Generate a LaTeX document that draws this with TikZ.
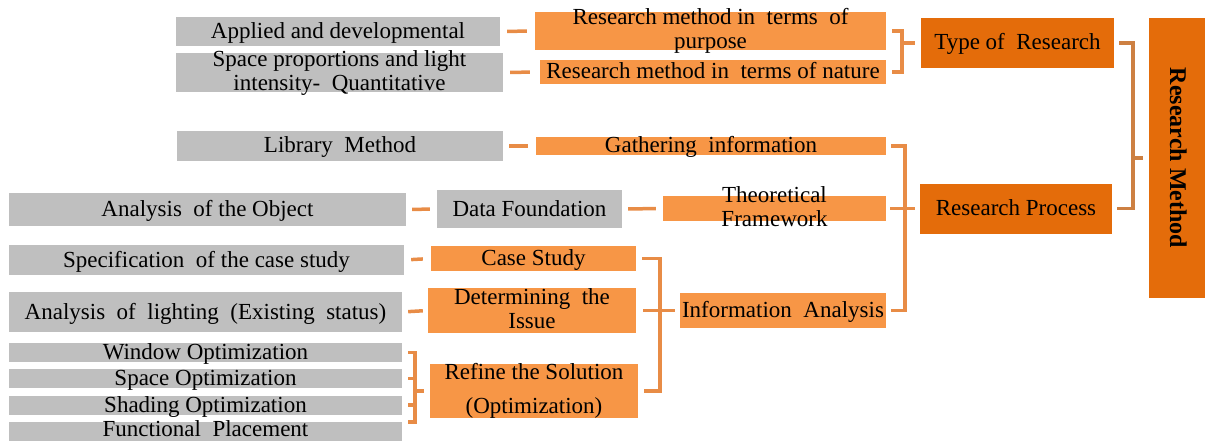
\documentclass[tikz,border=0pt]{standalone}
\usepackage{fontspec}
\setmainfont{Liberation Serif}
\usepackage{xcolor}
\usepackage{tikz}
\usetikzlibrary{calc}
\definecolor{boxgray}{RGB}{191,191,191}
\definecolor{lightorange}{RGB}{247,150,70}
\definecolor{darkorange}{RGB}{228,108,10}
\definecolor{linkorange}{RGB}{232,140,70}
\definecolor{linkbrown}{RGB}{205,128,66}
\newcommand{\twolines}[1]{\smash{\begin{tabular}{@{}c@{}}#1\end{tabular}}}
\tikzset{
  basebox/.style={rectangle, inner sep=0pt, font=\fontsize{23pt}{24pt}\selectfont,
                  text height=14pt, text depth=0pt},
  graybox/.style={basebox, fill=boxgray},
  lightbox/.style={basebox, fill=lightorange},
  darkbox/.style={basebox, fill=darkorange},
  link/.style={draw=linkorange, line width=3.5pt},
  linkdark/.style={draw=linkbrown, line width=3.5pt},
}
\begin{document}
\begin{tikzpicture}[x=1pt, y=-1pt]
  \useasboundingbox (0,0) rectangle (1205,441);
  % left column
  \node[graybox, minimum width=324pt, minimum height=29pt] (app) at (338,31.5) {Applied and developmental};
  \node[graybox, minimum width=327pt, minimum height=39pt] (spaceprop) at (339.5,72.5)
       {\twolines{Space proportions and light\\intensity-~ Quantitative}};
  \node[graybox, minimum width=326pt, minimum height=30pt] (lib) at (340,146) {Library~ Method};
  \node[graybox, minimum width=397pt, minimum height=33pt] (obj) at (207.5,209.5) {Analysis~ of the Object};
  \node[graybox, minimum width=185pt, minimum height=38pt] (datafound) at (529.5,209) {Data Foundation};
  \node[graybox, minimum width=395pt, minimum height=30pt] (spec) at (206.5,260) {Specification~ of the case study};
  \node[graybox, minimum width=393pt, minimum height=40pt] (light) at (205.5,312)
       {Analysis~ of~ lighting~ (Existing~ status)};
  \node[graybox, minimum width=393pt, minimum height=19pt] (winopt) at (205.5,352.5) {Window Optimization};
  \node[graybox, minimum width=393pt, minimum height=19pt] (spaceopt) at (205.5,378.5) {Space Optimization};
  \node[graybox, minimum width=393pt, minimum height=19pt] (shadeopt) at (205.5,405) {Shading Optimization};
  \node[graybox, minimum width=393pt, minimum height=19pt] (funcplace) at (205.5,431.5)
       {\raisebox{2pt}{Functional~ Placement}};
  % middle column
  \node[lightbox, minimum width=351pt, minimum height=38pt] (purpose) at (710.5,31)
       {\twolines{Research method in~ terms~ of\\purpose}};
  \node[lightbox, minimum width=346pt, minimum height=24pt] (nature) at (713,72) {Research method in~ terms of nature};
  \node[lightbox, minimum width=350pt, minimum height=18pt] (gather) at (711,146) {Gathering~ information};
  \node[lightbox, minimum width=223pt, minimum height=25pt] (theory) at (774.5,208.5)
       {\twolines{Theoretical\\Framework}};
  \node[lightbox, minimum width=205pt, minimum height=25pt] (casest) at (533.5,258.5) {Case Study};
  \node[lightbox, minimum width=208pt, minimum height=45pt] (issue) at (532,310.5)
       {\twolines{Determining~ the\\Issue}};
  \node[lightbox, minimum width=206pt, minimum height=35pt] (infoan) at (783,310.5) {Information~ Analysis};
  \node[lightbox, minimum width=208pt, minimum height=54pt] (refine) at (534,391)
       {\twolines{Refine the Solution\\[10pt](Optimization)}};
  % right column
  \node[darkbox, minimum width=193pt, minimum height=50pt] (rtype) at (1017.5,43) {Type of~ Research};
  \node[darkbox, minimum width=192pt, minimum height=50pt] (rprocess) at (1016,208.5) {Research Process};
  \node[darkbox, rotate=-90, minimum width=280pt, minimum height=56pt] (rmethod) at (1177,158)
       {\fontsize{24pt}{24pt}\selectfont\bfseries Research Method};
  % connectors
  \draw[link, shorten <=7pt, shorten >=8pt] (app.east) -- (purpose.west);
  \draw[link, shorten <=7pt, shorten >=10pt] (spaceprop.east) -- (nature.west);
  \draw[link, shorten <=6pt, shorten >=8pt] (lib.east) -- (gather.west);
  \draw[link, shorten <=6pt, shorten >=7pt] (obj.east) -- (datafound.west);
  \draw[link, shorten <=6pt, shorten >=7pt] (datafound.east) -- (theory.west);
  \draw[link, shorten <=7pt, shorten >=8pt] (spec.east) -- (casest.west);
  \draw[link, shorten <=6pt, shorten >=5pt] (light.east) -- (issue.west);
  \draw[link] ([xshift=6pt]purpose.east) -- ++(10,0) |- ([xshift=6pt]nature.east);
  \draw[link] ([xshift=-6pt]rtype.west) -- ++(-13,0);
  \draw[link] ([xshift=5pt]gather.east) -- ++(14,0) |- ([xshift=5pt]infoan.east);
  \draw[link] ([xshift=4pt]theory.east) -- ([xshift=-5pt]rprocess.west);
  \draw[linkdark] ([xshift=5pt]rtype.east) -- ++(14,0) |- ([xshift=5pt]rprocess.east);
  \draw[linkdark] ([xshift=-6pt]rmethod.south) -- ++(-10,0);
  \draw[link] ([xshift=6pt]casest.east) -- ++(18,0) |- ([xshift=6pt]refine.east);
  \draw[link] ([xshift=7pt]issue.east) -- ([xshift=-5pt]infoan.west);
  \draw[link] ([xshift=6pt]winopt.east) -- ++(7,0) |- ([xshift=6pt]funcplace.north east);
  \draw[link] ([xshift=6pt]spaceopt.east) -- ++(7,0);
  \draw[link] ([xshift=6pt]shadeopt.east) -- ++(7,0);
  \draw[link] ([xshift=-6pt]refine.west) -- ++(-9,0);
\end{tikzpicture}
\end{document}
